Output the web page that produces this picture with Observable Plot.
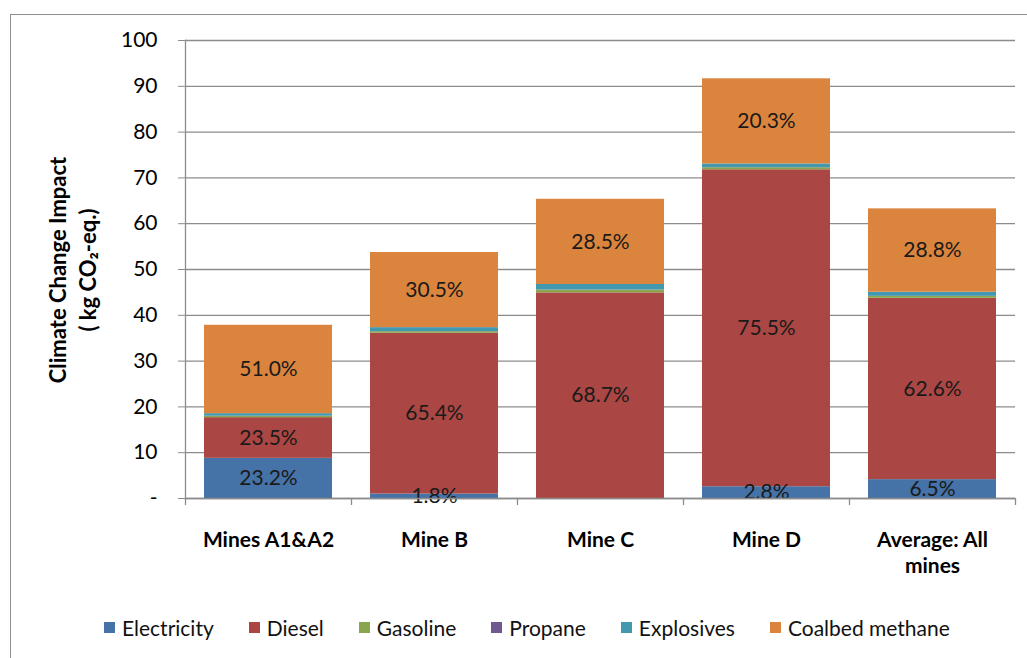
<!DOCTYPE html>
<html>
<head>
<meta charset="utf-8">
<script src="https://cdn.jsdelivr.net/npm/d3@7"></script>
<script src="https://cdn.jsdelivr.net/npm/@observablehq/plot@0.6"></script>
<style>
  body { margin: 0; background: white; font-family: Lato, "Open Sans", sans-serif; }
  #wrap { position: relative; width: 1027px; height: 658px; overflow: hidden; background: white; }
  #frame { position: absolute; left: 10px; top: 14px; width: 1040px; height: 680px; border: 1.5px solid #8f8f8f; box-sizing: border-box; }
  #chart { position: absolute; left: 0; top: 0; }
  #ytitle { position: absolute; left: 73px; top: 270px; transform: translate(-50%, -50%) rotate(-90deg); white-space: nowrap; text-align: center; font-weight: bold; font-size: 22px; line-height: 30px; color: #000; }
  #legend { position: absolute; left: 104px; top: 615px; display: flex; gap: 35px; font-size: 21px; color: #111; }
  #legend .item { display: flex; align-items: center; gap: 7px; }
  #legend .sw { width: 11px; height: 11px; display: inline-block; }
</style>
</head>
<body>
<div id="wrap">
  <div id="frame"></div>
  <div id="chart"></div>
  <div id="ytitle">Climate Change Impact<br>( kg CO₂-eq.)</div>
  <div id="legend"></div>
</div>
<script>
const categories = ["Mines A1&A2", "Mine B", "Mine C", "Mine D", "Average: All mines"];
const categoryLabels = ["Mines A1&A2", "Mine B", "Mine C", "Mine D", "Average: All\nmines"];
const seriesNames = ["Electricity", "Diesel", "Gasoline", "Propane", "Explosives", "Coalbed methane"];
const seriesColors = ["#4572A7", "#AA4643", "#89A54E", "#71588F", "#4198AF", "#DB843D"];

const electricity = [8.77, 0.97, 0, 2.57, 4.12];
const diesel = [8.88, 35.1, 44.9, 69.2, 39.6];
const gasoline = [0.3, 0.35, 0.6, 0.45, 0.4];
const propane = [0.02, 0.02, 0.03, 0.02, 0.02];
const explosives = [0.55, 0.87, 1.2, 0.8, 0.9];
const coalbed = [19.3, 16.4, 18.6, 18.6, 18.2];

const electricityLabels = ["23.2%", "1.8%", "", "2.8%", "6.5%"];
const dieselLabels = ["23.5%", "65.4%", "68.7%", "75.5%", "62.6%"];
const coalbedLabels = ["51.0%", "30.5%", "28.5%", "20.3%", "28.8%"];

const yTicks = [0, 10, 20, 30, 40, 50, 60, 70, 80, 90, 100];

const seriesValues = [electricity, diesel, gasoline, propane, explosives, coalbed];
const seriesLabels = [electricityLabels, dieselLabels, null, null, null, coalbedLabels];

const rows = [];
categories.forEach((c, ci) => {
  seriesNames.forEach((s, si) => {
    rows.push({
      category: c,
      series: s,
      value: seriesValues[si][ci],
      label: seriesLabels[si] ? seriesLabels[si][ci] : ""
    });
  });
});

const W = 1027, H = 600;
const mL = 185, mR = 12, mT = 40, mB = 102;
const step = (W - mL - mR) / categories.length;
const gridColor = "#8c8c8c";
const font = "Lato, 'Open Sans', sans-serif";

const chart = Plot.plot({
  width: W,
  height: H,
  marginLeft: mL,
  marginRight: mR,
  marginTop: mT,
  marginBottom: mB,
  style: { fontFamily: font, fontSize: "21px", background: "transparent", color: "#000" },
  x: { domain: categories, paddingInner: 0.23, paddingOuter: 0.115, label: null },
  y: { domain: [0, 100], label: null },
  color: { domain: seriesNames, range: seriesColors },
  marks: [
    Plot.ruleY(yTicks, { stroke: gridColor, strokeWidth: 1.3 }),
    Plot.barY(rows, Plot.stackY({ x: "category", y: "value", z: "series", fill: "series", order: seriesNames })),
    Plot.text(rows, Plot.stackY({ x: "category", y: "value", z: "series", order: seriesNames, text: "label", fill: "#1a1a1a", fontSize: 21 })),
    Plot.ruleY([0], { stroke: gridColor, strokeWidth: 1.3 }),
    Plot.frame({ anchor: "left", stroke: gridColor, strokeWidth: 1.3 }),
    Plot.ruleX(categories, { x: d => d, y1: 0, y2: 0, insetBottom: -7, dx: -step / 2, stroke: gridColor, strokeWidth: 1.3 }),
    Plot.ruleX(categories.slice(-1), { x: d => d, y1: 0, y2: 0, insetBottom: -7, dx: step / 2, stroke: gridColor, strokeWidth: 1.3 }),
    Plot.axisY({ ticks: yTicks, tickSize: 7, tickPadding: 21, stroke: gridColor, fill: "#000", fontSize: 21, label: null,
      tickFormat: d => d === 0 ? "-" : String(d) }),
    Plot.axisX({ tickSize: 0, tickPadding: 30, fontWeight: "bold", fontSize: 21, lineHeight: 1.25, fill: "#000", label: null,
      tickFormat: d => categoryLabels[categories.indexOf(d)] })
  ]
});
document.getElementById("chart").appendChild(chart);

const legend = document.getElementById("legend");
seriesNames.forEach((s, i) => {
  const item = document.createElement("div");
  item.className = "item";
  const sw = document.createElement("span");
  sw.className = "sw";
  sw.style.background = seriesColors[i];
  const t = document.createElement("span");
  t.textContent = s;
  item.appendChild(sw);
  item.appendChild(t);
  legend.appendChild(item);
});
</script>
</body>
</html>
